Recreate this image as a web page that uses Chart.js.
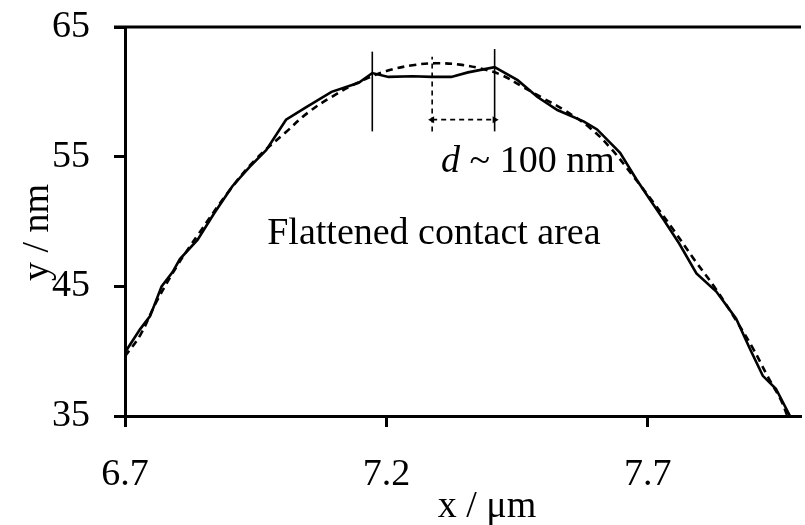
<!DOCTYPE html>
<html>
<head>
<meta charset="utf-8">
<script src="https://cdn.jsdelivr.net/npm/chart.js@4.4.0/dist/chart.umd.min.js"></script>
<style>
  body { margin: 0; background: #fff; }
</style>
</head>
<body>
<canvas id="profile" width="805" height="525"></canvas>
<script>
// measured height profile across the contact (solid)
const profileX = [6.700, 6.729, 6.748, 6.770, 6.791, 6.805, 6.839, 6.870, 6.905, 6.938, 6.970,
  7.008, 7.046, 7.095, 7.147, 7.173, 7.204, 7.250, 7.286, 7.324, 7.356, 7.407, 7.451, 7.489,
  7.527, 7.578, 7.603, 7.647, 7.679, 7.704, 7.730, 7.760, 7.793, 7.831, 7.869, 7.895, 7.920,
  7.945, 7.972];
const profileY = [39.9, 41.7, 42.7, 45.0, 46.1, 47.1, 48.6, 50.6, 52.7, 54.2, 55.5,
  57.85, 58.8, 60.0, 60.7, 61.45, 61.15, 61.2, 61.15, 61.15, 61.5, 61.9, 60.9, 59.6,
  58.6, 57.7, 57.1, 55.3, 53.2, 51.7, 50.15, 48.3, 46.0, 44.6, 42.5, 40.2, 38.1,
  37.1, 35.0];

// undeformed reference shape (dashed)
const fitX = [6.700, 6.730, 6.760, 6.800, 6.840, 6.900, 6.950, 7.008, 7.050, 7.095, 7.150,
  7.200, 7.250, 7.293, 7.340, 7.380, 7.420, 7.460, 7.500, 7.540, 7.590, 7.630, 7.670,
  7.710, 7.750, 7.790, 7.830, 7.870, 7.900, 7.930, 7.955, 7.967];
const fitY = [39.6, 41.3, 43.8, 46.6, 49.0, 52.4, 54.8, 56.9, 58.4, 59.6, 60.8,
  61.6, 62.05, 62.2, 62.1, 61.8, 61.3, 60.4, 59.5, 58.6, 57.2, 55.6, 53.6,
  51.5, 49.3, 47.0, 44.8, 42.3, 40.3, 38.0, 36.2, 35.0];

const xTicks = [6.7, 7.2, 7.7];
const yTicks = [35, 45, 55, 65];

// edges of the flattened zone and the apex of the reference shape
const contactEdges = [7.173, 7.407];
const edgeTops = [63.1, 63.3];
const apexX = 7.2875;
const apexTop = 62.7;
const markerBottom = 56.95;
const spanY = 57.85;

const serif = '"Liberation Serif", "Times New Roman", serif';
const fontSize = 38;

const toPoints = (xs, ys) => xs.map((x, i) => ({ x: x, y: ys[i] }));

const datasets = [
  {
    data: toPoints(profileX, profileY),
    borderColor: '#000',
    borderWidth: 2.6,
    pointRadius: 0,
    tension: 0
  },
  {
    data: toPoints(fitX, fitY),
    borderColor: '#000',
    borderWidth: 2.6,
    borderDash: [7, 5],
    pointRadius: 0,
    tension: 0.4
  }
];

contactEdges.forEach((x, i) => {
  datasets.push({
    data: [{ x: x, y: markerBottom }, { x: x, y: edgeTops[i] }],
    borderColor: '#000',
    borderWidth: 1.6,
    pointRadius: 0
  });
});

datasets.push({
  data: [{ x: apexX, y: markerBottom }, { x: apexX, y: apexTop }],
  borderColor: '#000',
  borderWidth: 1.6,
  borderDash: [5, 4],
  pointRadius: 0
});

// double arrow between apex and right edge
datasets.push({
  data: [{ x: apexX, y: spanY }, { x: contactEdges[1], y: spanY }],
  borderColor: '#000',
  borderWidth: 1.8,
  borderDash: [5, 4],
  pointStyle: 'triangle',
  pointRotation: [270, 90],
  pointRadius: 4,
  pointBorderWidth: 0,
  pointBackgroundColor: '#000'
});

const annotations = {
  id: 'annotations',
  afterDraw(chart) {
    const { ctx, chartArea, scales } = chart;
    const xs = scales.x, ys = scales.y;
    ctx.save();

    // top frame line
    ctx.strokeStyle = '#000';
    ctx.lineWidth = 3;
    ctx.beginPath();
    ctx.moveTo(chartArea.left - 11, chartArea.top);
    ctx.lineTo(chartArea.right, chartArea.top);
    ctx.stroke();

    ctx.fillStyle = '#000';
    ctx.textBaseline = 'alphabetic';
    ctx.textAlign = 'left';
    ctx.font = fontSize + 'px ' + serif;
    ctx.fillText('Flattened contact area', xs.getPixelForValue(6.972), ys.getPixelForValue(48.3));

    let tx = xs.getPixelForValue(7.3046);
    const ty = ys.getPixelForValue(53.85);
    ctx.font = 'italic ' + fontSize + 'px ' + serif;
    ctx.fillText('d', tx, ty);
    tx += ctx.measureText('d').width;
    ctx.font = fontSize + 'px ' + serif;
    ctx.fillText(' ~ 100 nm', tx, ty);

    // axis titles
    ctx.textAlign = 'center';
    ctx.fillText('x / \u03bcm', (chartArea.left + chartArea.right) / 2 + 24, 517);

    ctx.translate(38, (chartArea.top + chartArea.bottom) / 2 + 11);
    ctx.rotate(-Math.PI / 2);
    ctx.textBaseline = 'middle';
    ctx.fillText('y / nm', 0, 0);
    ctx.restore();
  }
};

new Chart(document.getElementById('profile'), {
  type: 'line',
  data: { datasets: datasets },
  options: {
    responsive: false,
    animation: false,
    layout: { padding: { top: 27, right: 0, left: 0, bottom: 0 } },
    plugins: {
      legend: { display: false },
      tooltip: { enabled: false }
    },
    scales: {
      x: {
        type: 'linear',
        min: 6.7,
        max: 7.993,
        afterBuildTicks: (scale) => { scale.ticks = xTicks.map(v => ({ value: v })); },
        afterFit: (scale) => {
          scale.height = 109;
          scale.paddingLeft = 0;
          scale.paddingRight = 0;
        },
        grid: { drawOnChartArea: false, tickLength: 11, tickWidth: 3, tickColor: '#000' },
        border: { color: '#000', width: 3 },
        ticks: {
          color: '#000',
          padding: 25,
          font: { family: serif, size: fontSize },
          callback: (v) => v.toFixed(1)
        }
      },
      y: {
        min: 35,
        max: 65,
        afterBuildTicks: (scale) => { scale.ticks = yTicks.map(v => ({ value: v })); },
        afterFit: (scale) => {
          scale.width = 125;
          scale.paddingTop = 0;
          scale.paddingBottom = 0;
        },
        grid: { drawOnChartArea: false, tickLength: 11, tickWidth: 3, tickColor: '#000' },
        border: { color: '#000', width: 3 },
        ticks: {
          color: '#000',
          padding: 24,
          font: { family: serif, size: fontSize }
        }
      }
    }
  },
  plugins: [annotations]
});
</script>
</body>
</html>
